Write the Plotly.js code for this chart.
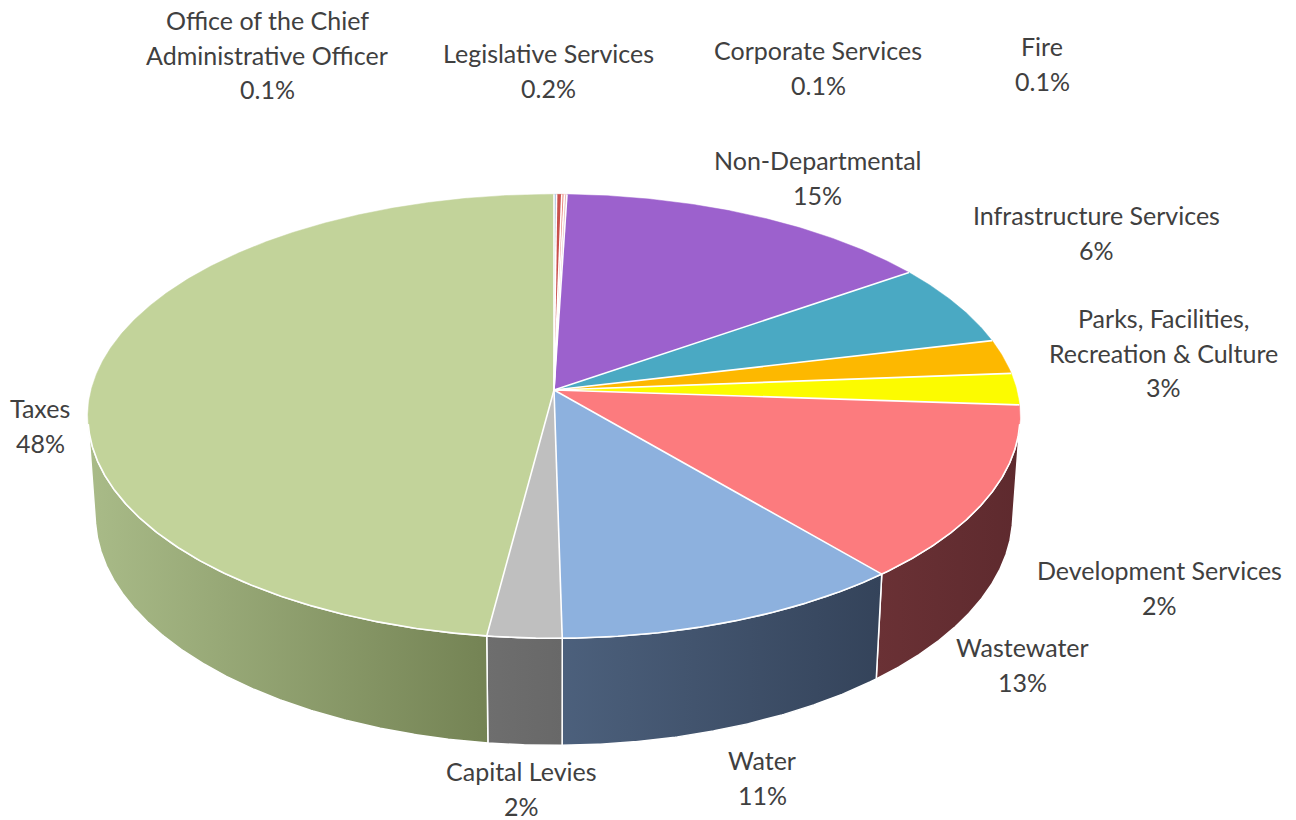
<!DOCTYPE html>
<html>
<head>
<meta charset="utf-8">
<script src="https://cdn.plot.ly/plotly-3.0.1.min.js"></script>
<style>html,body{margin:0;padding:0;background:#fff;}#chart{width:1296px;height:820px;}</style>
</head>
<body>
<div id="chart"></div>
<script>
// ---- data ----
const categories = ["Office of the Chief Administrative Officer", "Legislative Services", "Corporate Services", "Fire",
  "Non-Departmental", "Infrastructure Services", "Parks, Facilities, Recreation & Culture", "Development Services",
  "Wastewater", "Water", "Capital Levies", "Taxes"];
const values = [0.1, 0.2, 0.1, 0.1, 14.8, 6.0, 2.5, 2.3, 12.8, 10.9, 2.3, 48.0];
const percentLabels = ["0.1%", "0.2%", "0.1%", "0.1%", "15%", "6%", "3%", "2%", "13%", "11%", "2%", "48%"];
const labelLines = [
  ["Office of the Chief", "Administrative Officer"], ["Legislative Services"], ["Corporate Services"], ["Fire"],
  ["Non-Departmental"], ["Infrastructure Services"], ["Parks, Facilities,", "Recreation & Culture"], ["Development Services"],
  ["Wastewater"], ["Water"], ["Capital Levies"], ["Taxes"]];

// ---- styles ----
const topColors = ["#9fb6de", "#c9504d", "#e87a6f", "#e8b7b5", "#9c61cd", "#4aa9c3", "#fdb800", "#fcfb00",
  "#fc7b7e", "#8db1de", "#bfbfbf", "#c2d39a"];
const sideColors = [["#6f83a6","#5b6d8c"],["#8a3331","#732a28"],["#a0544c","#87463f"],["#a88584","#8d6f6e"],
  ["#6a3f8e","#573376"],["#2f7487","#265f70"],["#b07f00","#936a00"],["#b1af00","#939100"],
  ["#6a3135","#5e2a2e"],["#4c607c","#34435a"],["#6e6e6e","#686868"],["#a9bb88","#748354"]];
// label line centres [x, firstLineY]
const labelPos = [[267,20],[548,53],[818,50],[1042,46],[817,160],[1096,215],[1163,318],[1159,570],[1022,647],[762,760],[521,771],[40,408]];
const lineGap = 34.5;

// ---- projection (perspective view of a tilted disc) ----
const D = 7.43, sinP = 0.473, cosP = Math.sqrt(1 - 0.473*0.473), K = 3438, CX = 554, CY = 390, H = -0.245;
function proj(theta, h, r) {
  if (r === undefined) r = 1;
  const depth = D - h*sinP + r*Math.cos(theta)*cosP;
  const up = h*cosP + r*Math.cos(theta)*sinP;
  return [CX + K*r*Math.sin(theta)/depth, CY - K*up/depth];
}
const total = values.reduce((a,b)=>a+b,0);
const step = Math.PI/720;
function arc(a, b, h) {
  const pts = [];
  const n = Math.max(2, Math.ceil((b-a)/step));
  for (let i=0;i<=n;i++) pts.push(proj(a + (b-a)*i/n, h, 1));
  return pts;
}
const thS = Math.acos(-1/(D*cosP)); // silhouette angle
const traces = [];
let cum = 0;
const bounds = [];
values.forEach((v,i)=>{ const a = 2*Math.PI*cum/total; cum += v; const b = 2*Math.PI*cum/total; bounds.push([a,b]); });

// sides
bounds.forEach(([a,b],i)=>{
  const s = Math.max(a, thS), e = Math.min(b, 2*Math.PI - thS);
  if (e <= s) return;
  const topE = arc(s, e, 0), botE = arc(s, e, H).reverse();
  const pts = topE.concat(botE); pts.push(topE[0]);
  traces.push({type:'scatter', mode:'lines', x:pts.map(p=>p[0]), y:pts.map(p=>p[1]), fill:'toself',
    fillcolor: sideColors[i][0],
    fillgradient:{type:'horizontal', colorscale:[[0, sideColors[i][0]],[1, sideColors[i][1]]]},
    line:{color:'#ffffff', width:1.5}, hoverinfo:'skip'});
});
// top faces
const centre = proj(0, 0, 0);
bounds.forEach(([a,b],i)=>{
  const pts = [centre].concat(arc(a,b,0)); pts.push(centre);
  traces.push({type:'scatter', mode:'lines', x:pts.map(p=>p[0]), y:pts.map(p=>p[1]), fill:'toself',
    fillcolor: topColors[i], line:{color:topColors[i], width:0.5}, name: categories[i], hoverinfo:'skip'});
});
// white separators on top face
const sepX = [], sepY = [];
bounds.forEach(([a,b])=>{
  const p = proj(a,0,1);
  sepX.push(centre[0], p[0], null); sepY.push(centre[1], p[1], null);
});
const rim = arc(thS, 2*Math.PI - thS, 0);
rim.forEach(p=>{ sepX.push(p[0]); sepY.push(p[1]); });
traces.push({type:'scatter', mode:'lines', x:sepX, y:sepY, line:{color:'#ffffff', width:1.6}, hoverinfo:'skip', connectgaps:false});

// labels
const annotations = [];
labelLines.forEach((lines,i)=>{
  const all = lines.concat([percentLabels[i]]);
  all.forEach((t,j)=>{
    annotations.push({xref:'x', yref:'y', x:labelPos[i][0], y:labelPos[i][1] + j*lineGap, text:t, showarrow:false,
      xanchor:'center', yanchor:'middle', font:{family:'Lato, "Open Sans", sans-serif', size:25, color:'#404040'}});
  });
});

Plotly.newPlot('chart', traces, {
  width:1296, height:820, autosize:false, margin:{l:0,r:0,t:0,b:0},
  paper_bgcolor:'#ffffff', plot_bgcolor:'#ffffff', showlegend:false, hovermode:false,
  xaxis:{range:[0,1296], visible:false, fixedrange:true},
  yaxis:{range:[820,0], visible:false, fixedrange:true},
  annotations: annotations
}, {staticPlot:true});
</script>
</body>
</html>
